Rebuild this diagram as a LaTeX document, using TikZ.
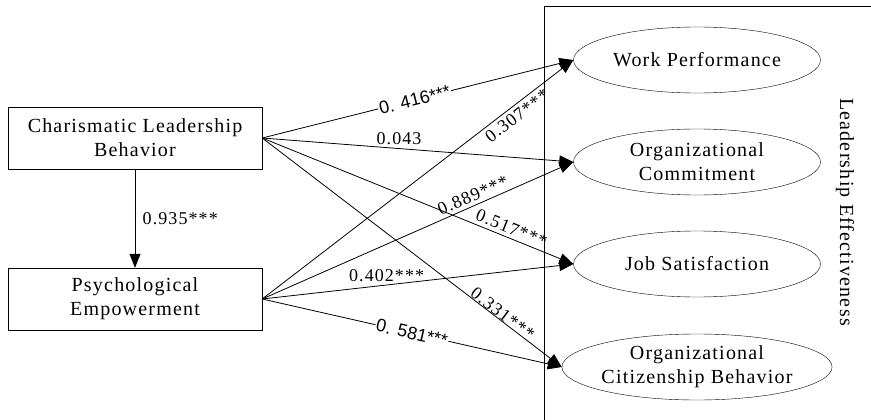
\documentclass[tikz,border=0pt]{standalone}
\usepackage{fontspec}
\setmainfont[LetterSpace=6]{Liberation Serif}
\newfontfamily\coefsans{Liberation Sans}
\usetikzlibrary{shapes.geometric,arrows.meta}

\tikzset{
    box/.style={draw, minimum width=254pt, minimum height=62pt, align=center, inner sep=0pt, font=\fontsize{20}{24}\selectfont},
    oval/.style={draw, ellipse, minimum width=247pt, minimum height=66pt, align=center, inner sep=0pt, font=\fontsize{20}{24}\selectfont},
    link/.style={draw, line width=0.8pt, -{Triangle[length=14pt,width=11pt]}},
    coef/.style={font=\fontsize{18}{20}\selectfont},
    coefcut/.style={font=\coefsans\fontsize{18}{20}\selectfont, fill=white, inner sep=1pt}
}

\begin{document}
\begin{tikzpicture}[x=1pt,y=-1pt]
        \useasboundingbox (0,0) rectangle (871,420);
        % outcome frame
        \draw[line width=0.8pt] (871,6) -- (544,6) -- (544,420);
        \node[rotate=-90, font=\fontsize{20}{24}\selectfont] (frame) at (845,212) {Leadership Effectiveness};

        % predictors
        \node[box] (clb) at (135,138) {Charismatic Leadership\\Behavior};
        \node[box] (pe) at (135,299) {Psychological\\Empowerment};

        % outcomes
        \node[oval] (wp) at (697,60) {Work Performance};
        \node[oval] (oc) at (697,162) {Organizational\\Commitment};
        \node[oval] (js) at (697,264) {Job Satisfaction};
        \node[oval] (ocb) at (697,367) {Organizational\\Citizenship Behavior};

        \draw[link] (clb) -- node[coef, right, xshift=4pt] {0.935***} (pe);

        \draw[link] (clb.east) -- node[coefcut, sloped, pos=0.49] {0. 416***} (wp.west);
        \draw[link] (clb.east) -- node[coef, above, pos=0.44] {0.043} (oc.west);
        \draw[link] (clb.east) -- node[coef, sloped, above, pos=0.79] {0.517***} (js.west);
        \draw[link] (clb.east) -- node[coef, sloped, above, inner sep=0pt, pos=0.79] {0.331***} (ocb.west);

        \draw[link] (pe.east) -- node[coef, sloped, below, pos=0.80] {0.307***} (wp.west);
        \draw[link] (pe.east) -- node[coef, sloped, above, pos=0.69] {0.889***} (oc.west);
        \draw[link] (pe.east) -- node[coef, above, pos=0.40] {0.402***} (js.west);
        \draw[link] (pe.east) -- node[coefcut, sloped, pos=0.50] {0. 581***} (ocb.west);
\end{tikzpicture}
\end{document}
